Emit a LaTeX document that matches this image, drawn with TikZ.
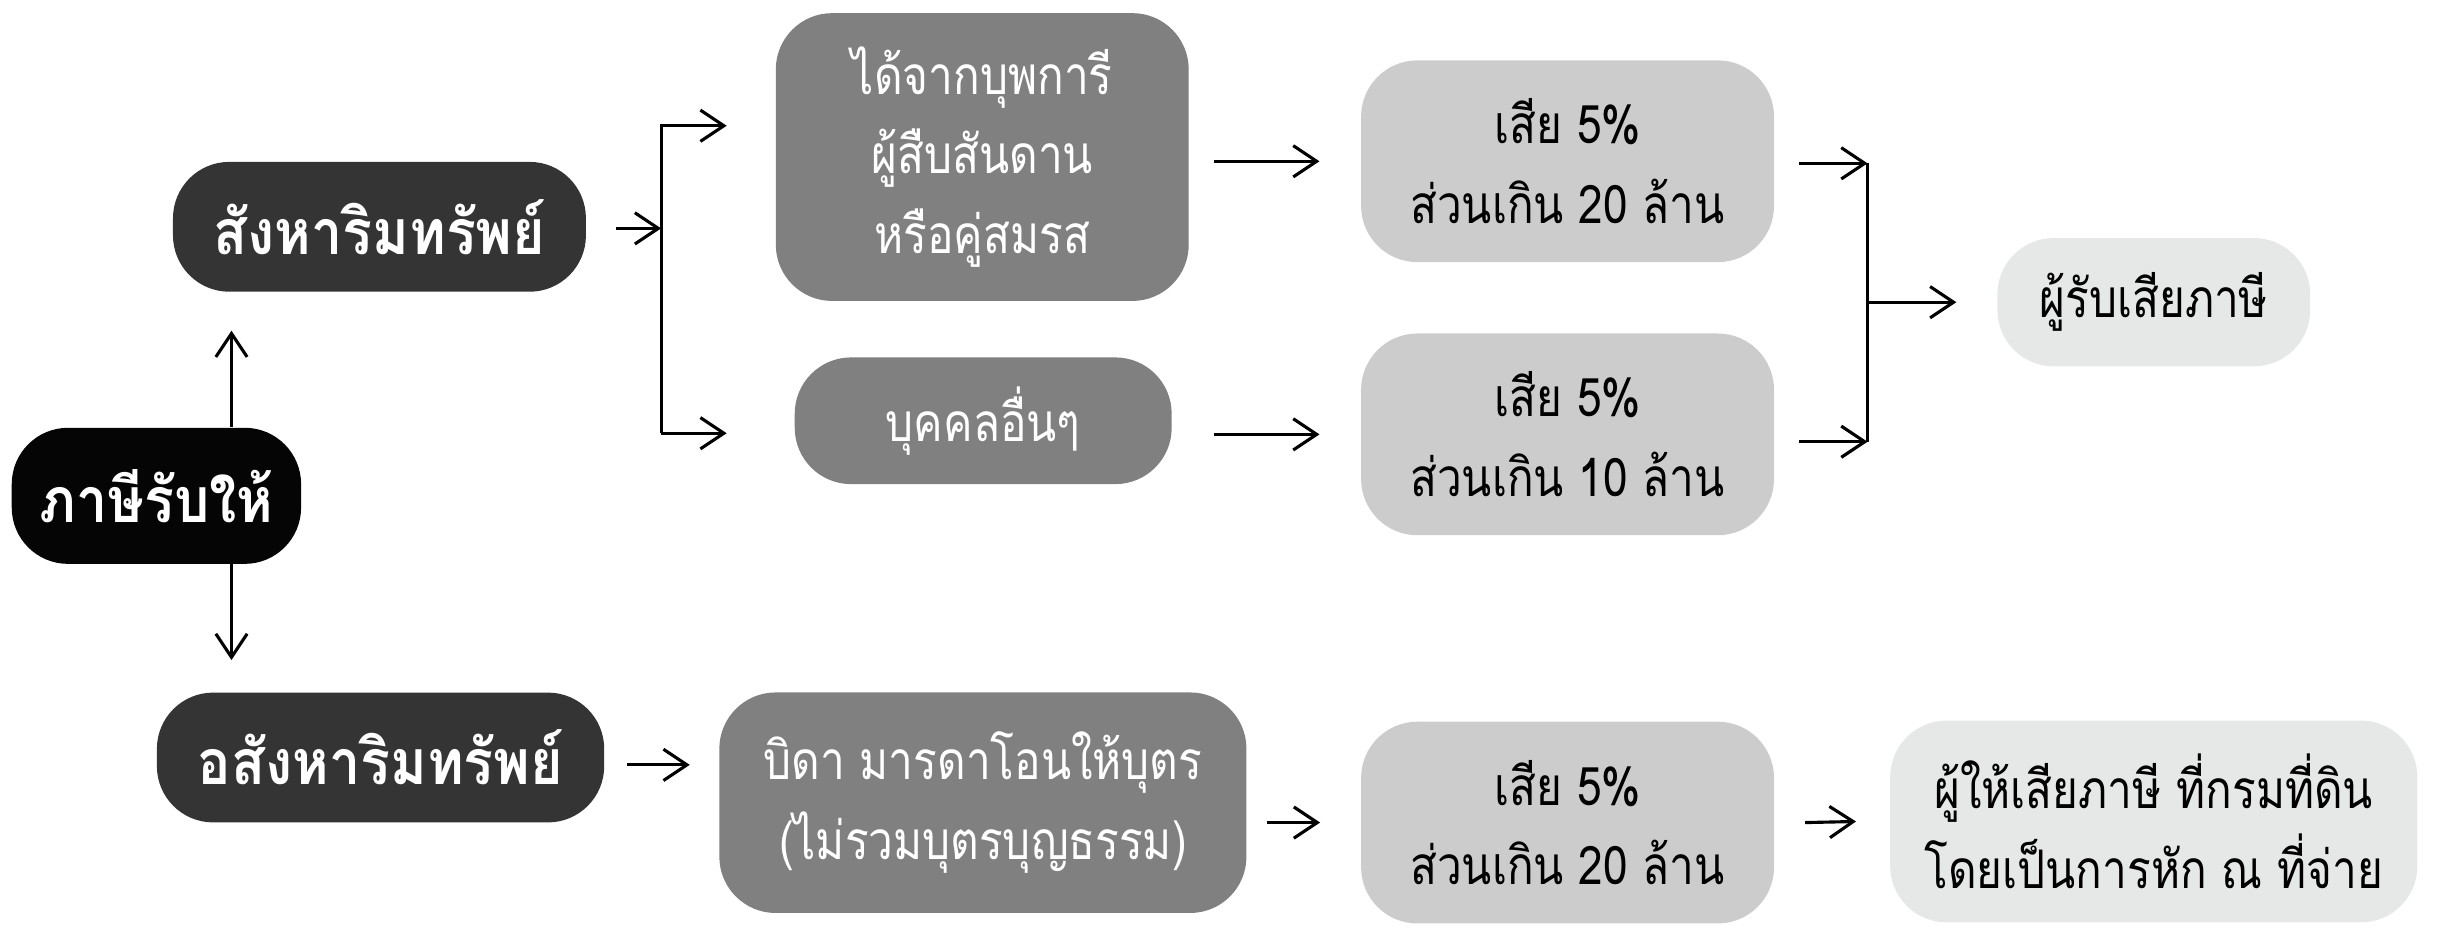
\documentclass[tikz,border=0pt]{standalone}
\usepackage{fontspec}
\newfontfamily\thaifont[Script=Thai,FakeStretch=0.83]{Loma}
\newfontfamily\thaihead[Script=Thai,FakeStretch=0.89]{Loma}
\usetikzlibrary{arrows.meta}
\definecolor{taxblack}{HTML}{050505}
\definecolor{taxdark}{HTML}{343434}
\definecolor{taxgray}{HTML}{808080}
\definecolor{taxlight}{HTML}{CCCCCC}
\definecolor{taxpale}{HTML}{E6E7E7}
\begin{document}
\begin{tikzpicture}[x=1pt, y=-1pt,
   box/.style={rounded corners=36pt, inner sep=0pt, align=center,
               font=\thaifont\fontsize{34}{51}\selectfont},
   head/.style={box, text=white, font=\thaihead\bfseries\fontsize{40}{51}\selectfont},
   case/.style={box, fill=taxgray, text=white},
   rate/.style={box, fill=taxlight, minimum width=264pt, minimum height=129pt},
   payer/.style={box, fill=taxpale},
   arr/.style={-{Straight Barb[length=15pt,width=20pt]}, line width=2pt}]
\useasboundingbox (0,0) rectangle (1560,598);

\node[head, fill=taxblack, minimum width=185pt, minimum height=87pt] (gift) at (100,317) {ภาษีรับให้};
\node[head, fill=taxdark, minimum width=264pt, minimum height=83pt] (mov) at (242.6,145) {สังหาริมทรัพย์};
\node[head, fill=taxdark, minimum width=286pt, minimum height=83pt] (immov) at (243.3,484.3) {อสังหาริมทรัพย์};

\node[case, minimum width=264pt, minimum height=184pt] (heir) at (628,100.4) {ได้จากบุพการี\\ผู้สืบสันดาน\\หรือคู่สมรส};
\node[case, minimum width=241pt, minimum height=81pt] (other) at (628.6,269) {บุคคลอื่นๆ};
\node[case, minimum width=337pt, minimum height=141pt] (parent) at (628.4,513.2) {บิดา มารดาโอนให้บุตร\\(ไม่รวมบุตรบุญธรรม)};

\node[rate] (rateA) at (1002.2,103.1) {เสีย 5\%\\ส่วนเกิน 20 ล้าน};
\node[rate] (rateB) at (1002.2,277.7) {เสีย 5\%\\ส่วนเกิน 10 ล้าน};
\node[rate] (rateC) at (1002.2,525.9) {เสีย 5\%\\ส่วนเกิน 20 ล้าน};

\node[payer, minimum width=200pt, minimum height=82pt] (recv) at (1377,193.2) {ผู้รับเสียภาษี};
\node[payer, minimum width=337pt, minimum height=129pt] (wht) at (1377,525.2) {ผู้ให้เสียภาษี ที่กรมที่ดิน\\โดยเป็นการหัก ณ ที่จ่าย};

\coordinate (upTip) at (148,211.4);
\coordinate (downTip) at (148,422);
\coordinate (jA) at (422.7,146);
\coordinate (jAt) at (422.7,80.4);
\coordinate (jAb) at (422.7,277);
\coordinate (tHeir) at (464.6,80.4);
\coordinate (tOther) at (464.6,277);
\coordinate (jBt) at (1194,104.4);
\coordinate (jBb) at (1194,282.4);
\coordinate (tParent) at (441,489);

\draw[arr] (gift.north -| upTip) -- (upTip);
\draw[arr] (gift.south -| downTip) -- (downTip);

\draw[arr] ([xshift=19pt]mov.east |- jA) -- (jA);
\draw[arr] (jAb) -- (jAt) -- (tHeir);
\draw[arr] (jAb) -- (tOther);

\draw[arr] ([xshift=15.7pt]heir.east |- rateA.west) -- ([xshift=-26.4pt]rateA.west);
\draw[arr] ([xshift=27pt]other.east |- rateB.west) -- ([xshift=-26.4pt]rateB.west);

\draw[arr] ([xshift=15.7pt]rateA.east |- jBt) -- (jBt);
\draw[arr] ([xshift=15.7pt]rateB.east |- jBb) -- (jBb);
\draw[line width=2pt] (jBt) -- (jBb);
\draw[arr] (jBt |- recv.west) -- ([xshift=-26pt]recv.west);

\draw[arr] ([xshift=14.3pt]immov.east |- tParent) -- (tParent);
\draw[arr] ([xshift=13.2pt]parent.east |- rateC.west) -- ([xshift=-26pt]rateC.west);
\draw[arr] ([xshift=19.7pt]rateC.east) -- ([xshift=-21.7pt]wht.west);
\end{tikzpicture}
\end{document}
